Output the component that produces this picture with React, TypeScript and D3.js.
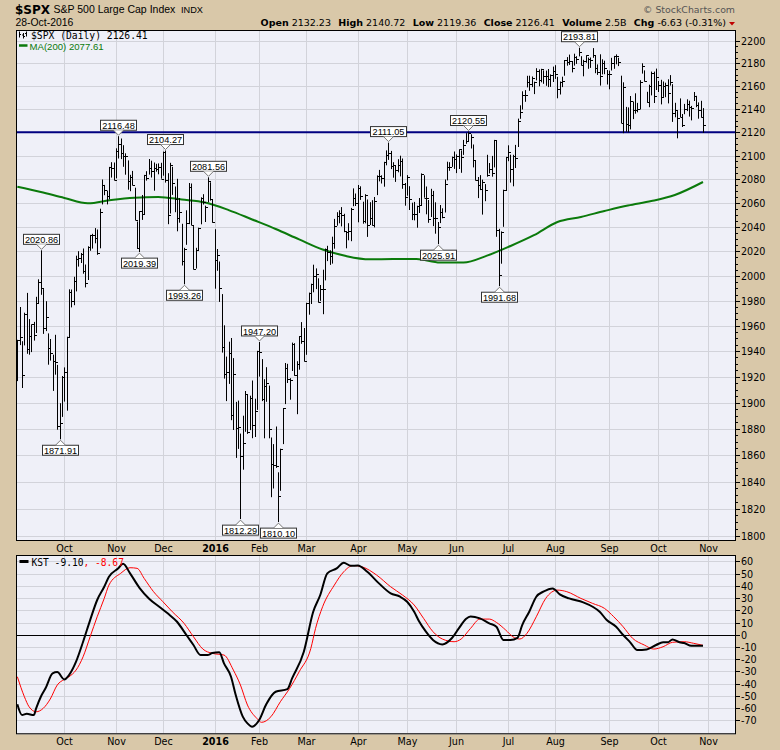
import React from 'react';
import * as d3 from 'd3';

// ---------- DATA ----------
// Daily S&P 500 bars, 2 Sep 2015 .. 28 Oct 2016 (one entry per trading day)
const highs = [
  1948.91,1975.01,1947.76,1970.42,1986.31,1965.29,1961.05,1963.06,1983.19,1997.26,2020.86,1989.37,1979.64,1953.99,1949.52,1937.17,1952.89,1929.18,1899.48,1920.53,
  1927.21,1951.36,1989.17,1989.05,1999.31,2016.50,2020.13,2018.66,2022.34,2009.26,2024.15,2033.54,2034.45,2039.12,2037.97,2055.20,2079.74,2075.14,2070.37,2090.35,2094.32,2094.12,
  2106.20,2116.48,2114.59,2108.78,2101.91,2095.89,2083.67,2086.94,2072.84,2044.64,2053.22,2066.69,2083.58,2086.73,2097.06,2095.61,2094.12,2093.00,2093.29,2093.81,
  2103.37,2104.27,2085.00,2093.84,2090.42,2073.85,2080.33,2064.05,2042.74,2022.92,2053.91,2076.72,2076.37,2040.82,2022.90,2039.49,2064.73,2067.36,2057.77,2081.56,2077.34,2062.54,
  2038.20,2021.94,2011.71,1985.32,1960.40,1935.65,1947.38,1950.33,1934.47,1900.44,1901.44,1876.18,1889.85,1908.85,1906.28,1905.28,1916.99,1902.96,1940.24,
  1947.20,1933.75,1918.01,1927.35,1913.07,1873.25,1868.25,1881.60,1847.00,1864.78,1895.77,1930.68,1930.00,1918.78,1946.70,1946.19,1932.08,1951.83,1962.96,1958.27,
  1978.35,1986.51,1993.69,2009.13,2006.12,1998.08,1992.69,2005.08,2022.37,2024.57,2020.86,2032.02,2046.74,2052.36,2053.91,2056.60,2051.00,2036.04,2043.17,2055.91,2072.21,2067.92,
  2075.07,2074.02,2061.12,2067.33,2062.93,2060.63,2062.32,2065.05,2083.18,2087.84,2083.22,2094.66,2104.37,2111.05,2103.94,2094.32,2091.38,2096.87,2099.89,2097.50,2076.72,
  2083.42,2074.04,2060.23,2060.88,2057.72,2064.15,2084.87,2083.29,2073.85,2062.52,2071.88,2070.13,2060.61,2044.21,2058.35,2055.58,2079.67,2094.73,2094.30,2099.06,2103.48,
  2100.97,2105.26,2104.37,2113.36,2119.22,2120.55,2118.11,2109.43,2095.41,2081.80,2083.43,2079.62,2075.83,2100.66,2093.64,2099.69,2113.32,2112.46,2038.57,2036.44,2071.13,2098.86,
  2108.71,2100.72,2100.63,2109.08,2131.71,2143.16,2155.40,2156.45,2168.99,2169.05,2168.35,2163.79,2175.63,2174.56,2175.11,2173.71,2173.54,2174.98,2170.21,2177.09,
  2178.29,2168.09,2163.95,2168.19,2182.87,2185.44,2187.66,2181.99,2188.45,2186.28,2193.81,2186.24,2183.08,2187.03,2185.00,2185.15,2193.42,2186.66,2179.00,2187.94,2183.48,2182.27,2174.10,
  2173.56,2184.87,2186.57,2187.87,2184.94,2169.08,2163.30,2141.76,2141.33,2151.31,2146.48,2153.61,2145.28,2165.11,2179.99,2173.75,2154.98,2161.13,2172.67,2172.67,2175.30,
  2164.41,2165.46,2163.95,2162.93,2165.86,2169.60,2161.56,2145.36,2138.19,2149.19,2135.61,2144.38,2148.44,2147.18,2142.63,2154.79,2151.44,2145.73,2147.13,2140.72,
];
const lows = [
  1916.52,1944.72,1911.21,1944.49,1937.88,1937.19,1939.19,1948.27,1954.30,1977.93,1984.73,1953.56,1955.80,1929.30,1932.57,1908.92,1921.50,1879.21,1871.91,1888.92,
  1900.70,1893.70,1950.29,1974.63,1976.44,1987.53,2007.61,2010.55,2001.78,1990.73,1996.69,2020.46,2022.31,2026.61,2017.22,2022.52,2058.84,2066.53,2058.84,2063.11,2081.34,2079.05,
  2080.76,2097.51,2096.98,2090.41,2083.74,2071.13,2069.91,2074.85,2045.66,2022.02,2019.39,2045.90,2050.37,2078.76,2083.81,2081.39,2070.29,2086.30,2084.13,2080.41,
  2082.93,2077.11,2042.35,2051.24,2066.78,2052.32,2036.53,2043.62,2008.49,1993.26,2025.38,2042.43,2041.66,2005.33,2005.93,2020.46,2042.30,2058.73,2044.20,2060.54,2061.97,2043.62,
  1989.68,2004.17,1979.05,1938.83,1918.46,1901.10,1914.35,1886.41,1878.93,1857.83,1864.60,1812.29,1848.98,1877.60,1875.97,1878.86,1872.70,1873.65,1894.30,
  1920.03,1901.10,1872.65,1900.52,1872.65,1828.46,1834.94,1850.32,1810.10,1833.19,1868.25,1898.80,1915.09,1902.17,1924.44,1920.77,1891.00,1925.41,1945.78,1931.81,
  1937.09,1968.80,1977.37,1986.77,1989.38,1978.58,1979.84,1969.25,1996.35,2012.05,2008.93,2010.04,2022.16,2041.17,2043.14,2040.57,2035.73,2022.49,2029.06,2028.31,2057.32,2057.46,
  2043.98,2062.57,2042.82,2043.09,2031.91,2041.69,2041.19,2039.74,2066.64,2078.13,2076.31,2073.65,2091.68,2096.32,2088.52,2081.20,2077.66,2085.80,2082.31,2071.88,2057.77,
  2066.11,2054.15,2045.77,2045.55,2039.45,2051.70,2057.90,2064.46,2050.57,2043.55,2048.38,2040.82,2034.49,2025.91,2043.31,2047.26,2052.04,2078.93,2087.08,2090.34,2088.66,
  2085.10,2088.59,2085.36,2100.56,2110.01,2112.41,2106.04,2089.96,2078.92,2064.10,2070.79,2050.37,2061.46,2082.07,2084.89,2082.10,2089.89,2032.00,1991.68,2009.97,2040.23,2070.00,
  2095.21,2077.13,2074.02,2089.39,2107.29,2131.51,2139.58,2146.21,2158.79,2155.79,2159.07,2152.94,2164.89,2159.75,2163.24,2161.95,2160.18,2159.07,2159.22,2163.49,
  2166.21,2149.29,2152.63,2159.07,2169.08,2177.85,2178.61,2172.00,2177.97,2179.42,2186.08,2178.14,2168.50,2180.46,2175.13,2175.96,2184.89,2171.25,2169.74,2160.39,2170.19,2170.41,2161.35,
  2157.09,2173.59,2175.10,2179.07,2177.49,2127.81,2119.12,2120.33,2119.90,2122.36,2131.20,2135.91,2137.15,2139.57,2170.94,2163.97,2145.40,2141.55,2151.79,2145.20,2156.51,
  2154.77,2144.01,2150.52,2150.28,2144.85,2160.39,2128.84,2132.77,2114.72,2132.98,2124.43,2135.49,2138.15,2133.44,2130.09,2146.91,2141.54,2131.59,2132.52,2119.36,
];
const closes = [
  1948.86,1951.13,1921.22,1969.41,1942.04,1952.29,1961.05,1953.03,1978.09,1995.31,1990.20,1958.03,1966.97,1942.74,1938.76,1932.24,1931.34,1881.77,1884.09,1920.03,
  1923.82,1951.36,1987.05,1979.92,1995.83,2013.43,2014.89,2017.46,2003.69,1994.24,2023.86,2033.11,2033.66,2030.77,2018.94,2052.51,2075.15,2071.18,2065.89,2090.35,2089.41,2079.36,
  2104.05,2109.79,2102.31,2099.93,2099.20,2078.58,2081.72,2075.00,2045.97,2023.04,2053.19,2050.44,2083.58,2081.24,2089.17,2086.59,2089.14,2088.87,2090.11,2080.41,
  2102.63,2079.51,2049.62,2091.69,2077.07,2063.59,2047.62,2052.23,2012.37,2021.94,2043.41,2073.07,2041.89,2005.55,2021.15,2038.97,2064.29,2060.99,2056.50,2078.36,2063.36,2043.94,
  2012.66,2016.71,1990.26,1943.09,1922.03,1923.67,1938.68,1890.28,1921.84,1880.33,1881.33,1859.33,1868.99,1906.90,1877.08,1903.63,1882.95,1893.36,1940.24,
  1939.38,1903.03,1912.53,1915.45,1880.05,1853.44,1852.21,1851.86,1829.08,1864.78,1895.58,1926.82,1917.83,1917.78,1945.50,1921.27,1929.80,1951.70,1948.05,1932.23,
  1978.35,1986.45,1993.40,1999.99,2001.76,1979.26,1989.26,1989.57,2022.19,2019.64,2015.93,2027.22,2040.59,2049.58,2051.60,2049.80,2036.71,2035.94,2037.05,2055.01,2063.95,2059.74,
  2072.78,2066.13,2045.17,2066.66,2041.91,2047.60,2041.99,2061.72,2082.42,2082.78,2080.73,2094.34,2100.80,2102.40,2091.48,2091.58,2087.79,2091.70,2095.15,2075.81,2065.30,
  2081.43,2063.37,2051.12,2050.63,2057.14,2058.69,2084.39,2064.46,2064.11,2046.61,2066.66,2047.21,2047.63,2040.04,2052.32,2048.04,2076.06,2090.54,2090.10,2099.06,2096.95,
  2099.33,2105.26,2099.13,2109.41,2112.13,2119.12,2115.48,2096.07,2079.06,2075.32,2071.50,2077.99,2071.22,2083.25,2088.90,2085.45,2113.32,2037.41,2000.54,2036.09,2070.77,2098.86,
  2102.95,2088.55,2099.73,2097.90,2129.90,2137.16,2152.14,2152.43,2163.75,2161.74,2166.89,2163.78,2173.02,2165.17,2175.03,2168.48,2169.18,2166.58,2170.06,2173.60,
  2170.84,2157.03,2163.79,2164.25,2182.87,2180.89,2181.74,2175.49,2185.79,2184.05,2190.15,2178.15,2182.22,2187.02,2183.87,2182.64,2186.90,2175.44,2172.47,2169.04,2180.38,2176.12,2170.95,
  2170.86,2179.98,2186.48,2186.16,2181.30,2127.81,2159.04,2127.02,2125.77,2147.26,2139.16,2139.12,2139.76,2163.12,2177.18,2164.69,2146.10,2159.93,2171.37,2151.13,2168.27,
  2161.20,2150.49,2159.73,2160.77,2153.74,2163.66,2136.73,2139.18,2132.55,2132.98,2126.50,2139.60,2144.29,2141.34,2141.16,2151.33,2143.16,2139.43,2133.04,2126.41,
];

// 200-day moving average, read at sample trading-day indices
const maIdx = [0,10,20,30,40,50,60,70,80,90,100,110,120,130,140,150,160,170,180,190,200,210,220,230,240,250,260,270,280,292];
const maVal = [2073.6,2069.2,2064.2,2059.7,2062.5,2064.4,2065.0,2062.9,2060.4,2054.1,2046.3,2038.4,2029.8,2021.5,2016.2,2013.5,2013.8,2013.8,2010.9,2010.9,2016.5,2024.4,2033.3,2044.2,2048.4,2053.3,2057.9,2061.6,2066.7,2077.61];

// KST and its signal line, read at sample trading-day indices
const kstIdx = [0,2,4,7,8,10,12,15,17,20,22,25,28,31,34,37,39,43,45,48,52,56,61,64,68,72,75,78,81,83,86,88,91,93,96,98,100,103,106,110,115,117,122,126,129,132,136,139,142,145,149,154,159,163,166,169,171,174,177,181,185,188,191,193,197,201,204,207,210,213,215,218,221,224,228,231,235,241,245,248,251,255,258,261,264,268,272,275,277,279,282,284,287,292];
const kstVal = [-56.9,-65.7,-64.6,-65.7,-60.2,-50.7,-43.8,-31.6,-30.5,-36.5,-33,-22,-5.7,12,28.4,39.2,47.4,54.3,58,50.2,38.4,29.7,22.1,17.5,10.6,-0.2,-8.4,-16.6,-16.6,-15,-14.4,-23.4,-34.3,-49.3,-67,-72.5,-75.2,-69.7,-56.9,-46.6,-44.4,-35.7,-13.9,18.8,32.5,50.2,54.3,58.9,56.4,56.6,51.5,42,33.8,31.1,27,18.8,11.2,2.5,-4.3,-7.9,-2.9,5.2,12.8,15,13.4,9.3,6.5,-4.3,-4.3,-2.5,7.9,18.8,31.1,35.2,37.9,33,29.7,26.5,22.9,18.8,12,6.5,-0.2,-6.2,-12.5,-12,-8.4,-6.2,-6.2,-3.8,-6.2,-6.8,-9,-9.1];
const sigIdx = [0,3,5,8,11,14,17,20,22,25,28,31,34,37,39,44,48,51,54,58,62,66,71,75,79,83,88,92,95,98,102,104,108,112,116,120,125,127,130,135,139,143,147,153,159,164,169,173,177,181,186,189,193,197,201,204,208,211,214,217,221,225,230,234,240,245,250,254,258,262,267,271,275,279,284,288,292];
const sigVal = [-34.3,-50.7,-58.9,-63,-60.2,-52.6,-41.1,-36.5,-34.3,-28.9,-18,-1.6,14.7,29.7,40.6,50.2,54.8,54.3,46.1,35.2,27,18.8,9.3,-1.6,-11.7,-15.2,-16.6,-28.9,-41.1,-57.5,-68.4,-71.6,-67,-54.8,-43.8,-30.3,-11.1,5.2,22.9,40.6,51.5,56.6,55.4,48.8,39.2,32.5,24.3,13.4,2.5,-3.5,-5.7,-3.5,5.2,12.8,12.8,10.1,3.8,-1.6,-3.5,1.1,14.7,29.7,36.5,35.2,29.7,25.6,21.6,14.7,6.5,-2.9,-8.4,-11.7,-9.8,-6.2,-5.7,-7,-8.67];

// annotated swing points (trading-day index, H = high above, L = low below)
const annIdx = [10,18,43,52,63,71,81,95,103,111,158,179,192,205,239];
const annSide = ['H','L','H','L','H','L','H','L','H','L','H','L','H','L','H'];

const priceTicks = d3.range(1800, 2201, 20);
const kstTicks = d3.range(-70, 61, 10);
const kstGrid = d3.range(-80, 61, 10);
const supportLevel = 2120;

const headerStats: [string, string][] = [
  ['Open', '2132.23'], ['High', '2140.72'], ['Low', '2119.36'], ['Close', '2126.41'], ['Volume', '2.5B'], ['Chg', '-6.63 (-0.31%)'],
];
const holidays = ['2015-09-07','2015-11-26','2015-12-25','2016-01-01','2016-01-18','2016-02-15','2016-03-25','2016-05-30','2016-07-04','2016-09-05'];

// ---------- LAYOUT ----------
const W = 780, H = 750;
const pL = 16, pR = 736, pT = 30, pB = 541;
const kT = 555, kB = 734.3;
const BG = '#d9c8a9';
const PANEL = '#eff0f8';
const GRID = '#d2d3da';
const SANS = 'DejaVu Sans, Verdana, sans-serif';
const NARROW = 'Liberation Sans, Arial, sans-serif';
const MONO = 'DejaVu Sans Mono, monospace';

function tradingDays(n: number): Date[] {
  const fmt = d3.timeFormat('%Y-%m-%d');
  const hol = new Set(holidays);
  const out: Date[] = [];
  const d = new Date(2015, 8, 2);
  while (out.length < n) {
    const dow = d.getDay();
    if (dow !== 0 && dow !== 6 && !hol.has(fmt(d))) out.push(new Date(d));
    d.setDate(d.getDate() + 1);
  }
  return out;
}

export default function App() {
  const dates = tradingDays(295);
  const x = d3.scaleLinear().domain([0, 294]).range([17.35, 707.7]);
  const yP = d3.scaleLog().domain([1796.3, 2209.6]).range([pB, pT]);
  const yK = d3.scaleLinear().domain([-81.4, 65.2]).range([kB, kT]);

  const months: { i: number; label: string; year: boolean }[] = [];
  for (let i = 1; i < dates.length; i++) {
    if (dates[i].getMonth() !== dates[i - 1].getMonth()) {
      const jan = dates[i].getMonth() === 0;
      months.push({ i, label: jan ? String(dates[i].getFullYear()) : d3.timeFormat('%b')(dates[i]), year: jan });
    }
  }
  const gx = (i: number) => Math.round(x(i)) + 0.5;

  let bars = '';
  highs.forEach((h, i) => {
    const bx = gx(i);
    const yh = yP(h), yl = yP(lows[i]);
    const yc = Math.round(yP(closes[i])) + 0.5;
    bars += `M${bx},${yh.toFixed(1)}V${Math.max(yl, yh + 1).toFixed(1)}M${bx},${yc}H${bx + 2.5}`;
  });

  const maLine = d3.line<number>().x((d, k) => x(maIdx[k])).y(d => yP(d)).curve(d3.curveMonotoneX)(maVal) || '';
  const kstLine = d3.line<number>().x((d, k) => x(kstIdx[k])).y(d => yK(d)).curve(d3.curveMonotoneX)(kstVal) || '';
  const sigLine = d3.line<number>().x((d, k) => x(sigIdx[k])).y(d => yK(d)).curve(d3.curveMonotoneX)(sigVal) || '';

  const fmt2 = d3.format('.2f');

  return (
    <svg width={W} height={H} style={{ position: 'absolute', left: 0, top: 0, display: 'block' }} fontFamily={SANS}>
      <defs>
        <clipPath id="clipP"><rect x={pL} y={pT} width={pR - pL} height={pB - pT} /></clipPath>
        <clipPath id="clipK"><rect x={pL} y={kT} width={pR - pL} height={kB - kT} /></clipPath>
      </defs>
      <rect x={0} y={0} width={W} height={H} fill={BG} />

      {/* header */}
      <text x={15} y={13.5} fontSize={12} fontWeight="bold" fill="#000">$SPX</text>
      <text x={53.5} y={13} fontSize={10.5} fontFamily={NARROW} fill="#000">S&amp;P 500 Large Cap Index</text>
      <text x={181} y={13} fontSize={9.2} fontFamily={NARROW} fill="#000">INDX</text>
      <text x={15.5} y={26} fontSize={10.4} fontFamily={NARROW} fill="#000">28-Oct-2016</text>
      <text x={735} y={12.5} fontSize={9.4} fill="#555" textAnchor="end">© StockCharts.com</text>
      <text x={726} y={26} fontSize={9.5} fill="#000" textAnchor="end">
        {headerStats.map(([k, v], j) => (
          <React.Fragment key={k}>
            <tspan fontWeight="bold" dx={j ? 4 : 0}>{(j ? ' ' : '') + k}</tspan>
            <tspan>{' ' + v}</tspan>
          </React.Fragment>
        ))}
      </text>
      <path d="M729,22 L735,22 L732,25.5 Z" fill="#c00000" />

      {/* ---------- price panel ---------- */}
      <rect x={pL} y={pT} width={pR - pL} height={pB - pT} fill={PANEL} />
      <g stroke={GRID} strokeWidth={1}>
        {priceTicks.map(t => {
          const yy = Math.round(yP(t)) + 0.5;
          return <line key={t} x1={pL} x2={pR} y1={yy} y2={yy} />;
        })}
        {months.map(m => <line key={m.i} x1={gx(m.i)} x2={gx(m.i)} y1={pT} y2={pB} />)}
      </g>
      <g clipPath="url(#clipP)">
        <path d={maLine} fill="none" stroke="#0b7a0b" strokeWidth={2} />
        <line x1={pL} x2={pR} y1={yP(supportLevel)} y2={yP(supportLevel)} stroke="#000080" strokeWidth={2} />
        <path d={bars} fill="none" stroke="#000" strokeWidth={1} />
        {annIdx.map((i, k) => {
          const hi = annSide[k] === 'H';
          const v = hi ? highs[i] : lows[i];
          const bx = gx(i);
          const apex = hi ? yP(v) - 1 : yP(v) + 1;
          const base = hi ? apex - 5 : apex + 5;
          const boxY = hi ? base - 10 : base;
          const bw = 36;
          return (
            <g key={i}>
              <rect x={bx - bw / 2} y={boxY} width={bw} height={10} fill="#fff" stroke="#333" strokeWidth={1} />
              <path d={`M${bx - 5},${base}L${bx},${apex}L${bx + 5},${base}Z`} fill="#fff" stroke="none" />
              <path d={`M${bx - 5},${base}L${bx},${apex}L${bx + 5},${base}`} fill="none" stroke="#777" strokeWidth={1} />
              <text x={bx} y={boxY + 8.6} fontSize={9.2} fontFamily={NARROW} textAnchor="middle" fill="#000">{fmt2(v)}</text>
            </g>
          );
        })}
      </g>
      {/* legend */}
      <g stroke="#000" strokeWidth={1}>
        <path d="M19.5,31.5V37.5M19.5,34.5H21 M23.5,33V38.5M22,35H23.5M23.5,36.5H25 M26.5,31.5V36.5M25,33.5H26.5" />
      </g>
      <text x={31} y={38.5} fontSize={9.7} fontFamily={MONO} fill="#000">$SPX (Daily) 2126.41</text>
      <line x1={19} x2={27.5} y1={45.5} y2={45.5} stroke="#0b7a0b" strokeWidth={2.5} />
      <text x={29.5} y={49.5} fontSize={9.6} fontFamily={NARROW} fill="#0b7a0b">MA(200) 2077.61</text>
      <rect x={pL + 0.5} y={pT + 0.5} width={pR - pL - 1} height={pB - pT - 1} fill="none" stroke="#000" strokeWidth={1} />
      {/* right axis */}
      <g fontSize={9.6} fill="#000">
        {priceTicks.map(t => {
          const yy = Math.round(yP(t)) + 0.5;
          return (
            <g key={t}>
              <line x1={pR} x2={pR + 4} y1={yy} y2={yy} stroke="#000" />
              <text x={pR + 5} y={yy + 3.5}>{t}</text>
            </g>
          );
        })}
        {d3.range(1800, 2205, 5).filter(t => t % 20 !== 0).map(t => {
          const yy = Math.round(yP(t)) + 0.5;
          return <line key={t} x1={pR} x2={pR + 2} y1={yy} y2={yy} stroke="#000" />;
        })}
      </g>
      {/* month labels between panels */}
      <g fontSize={9.6} textAnchor="middle" fill="#000">
        {months.map(m => (
          <text key={m.i} x={gx(m.i)} y={551.5} fontWeight={m.year ? 'bold' : 'normal'}>{m.label}</text>
        ))}
      </g>

      {/* ---------- KST panel ---------- */}
      <rect x={pL} y={kT} width={pR - pL} height={kB - kT} fill={PANEL} />
      <g stroke={GRID} strokeWidth={1}>
        {kstGrid.map(t => {
          const yy = Math.round(yK(t)) + 0.5;
          return <line key={t} x1={pL} x2={pR} y1={yy} y2={yy} />;
        })}
        {months.map(m => <line key={m.i} x1={gx(m.i)} x2={gx(m.i)} y1={kT} y2={kB} />)}
      </g>
      <g clipPath="url(#clipK)">
        <line x1={pL} x2={pR} y1={Math.round(yK(0)) + 0.5} y2={Math.round(yK(0)) + 0.5} stroke="#000" strokeWidth={1} />
        <path d={sigLine} fill="none" stroke="#ff0000" strokeWidth={1} />
        <path d={kstLine} fill="none" stroke="#000" strokeWidth={2} />
      </g>
      <line x1={19.5} x2={28.5} y1={561.5} y2={561.5} stroke="#000" strokeWidth={3} />
      <text x={31.5} y={565.5} fontSize={9.6} fontFamily={MONO} fill="#000">
        KST -9.10<tspan fill="#ff0000">, -8.67</tspan>
      </text>
      <rect x={pL + 0.5} y={kT + 0.5} width={pR - pL - 1} height={kB - kT - 1} fill="none" stroke="#000" strokeWidth={1} />
      <g fontSize={9.6} fill="#000">
        {kstTicks.map(t => {
          const yy = Math.round(yK(t)) + 0.5;
          return (
            <g key={t}>
              <line x1={pR} x2={pR + 4} y1={yy} y2={yy} stroke="#000" />
              <text x={pR + 5} y={yy + 3.5}>{t}</text>
            </g>
          );
        })}
      </g>
      <g fontSize={9.6} textAnchor="middle" fill="#000">
        {months.map(m => (
          <text key={m.i} x={gx(m.i)} y={745} fontWeight={m.year ? 'bold' : 'normal'}>{m.label}</text>
        ))}
      </g>
    </svg>
  );
}
